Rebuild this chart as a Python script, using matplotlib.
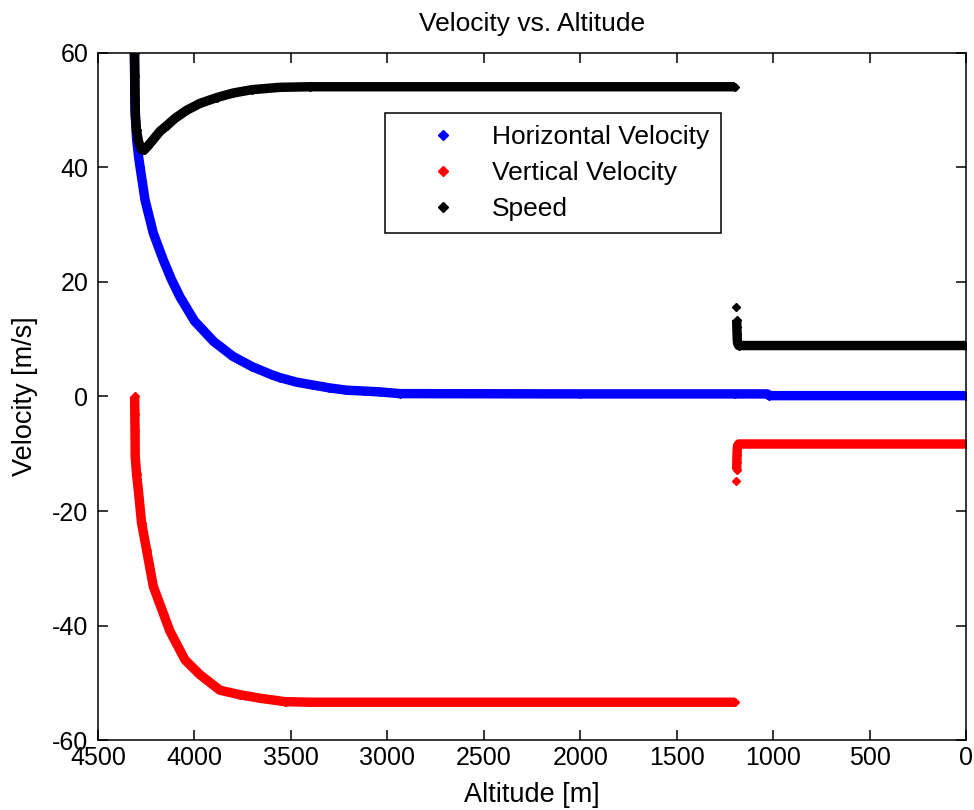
import numpy as np
import matplotlib
matplotlib.use("Agg")
import matplotlib.pyplot as plt
from matplotlib.lines import Line2D

plt.rcParams["font.family"] = ["Liberation Sans", "DejaVu Sans"]
plt.rcParams["font.size"] = 18
plt.rcParams["axes.unicode_minus"] = False

# horizontal velocity over the whole descent [m, m/s]
horiz_alt = [4312, 4310, 4308, 4300, 4290, 4282, 4256, 4213, 4161, 4120, 4075,
             4000, 3900, 3800, 3700, 3600, 3557, 3470, 3385, 3300, 3211, 3120,
             3038, 2935, 2000, 1200, 1030, 1020, 0]
horiz_vel = [60.0, 56.0, 50.0, 45.0, 42.0, 40.1, 34.3, 28.5, 23.8, 20.5, 17.4,
             13.2, 9.6, 7.0, 5.2, 3.8, 3.3, 2.5, 2.0, 1.5, 1.1, 0.95,
             0.8, 0.5, 0.45, 0.45, 0.45, 0.15, 0.15]

# vertical velocity: free fall, then under canopy
vert_alt_ff = [4310, 4309, 4308, 4307, 4300, 4291, 4274, 4248, 4213, 4127,
               4049, 3971, 3868, 3764, 3660, 3531, 3400, 1198]
vert_vel_ff = [0.0, -3.0, -6.0, -10.5, -13.5, -16.3, -22.1, -26.8, -33.2, -41.0,
               -46.0, -48.6, -51.3, -52.1, -52.7, -53.3, -53.4, -53.4]
vert_alt_chute = [1190, 1189, 1188, 1187, 1186, 1184, 1178, 0]
vert_vel_chute = [-14.8, -12.8, -11.4, -10.2, -9.2, -8.6, -8.3, -8.3]

# total speed: free fall, then under canopy
speed_alt_ff = [4310, 4309, 4308, 4306, 4300, 4290, 4275, 4262, 4240, 4179,
                4144, 4100, 4040, 3971, 3885, 3800, 3700, 3557, 3400, 1198]
speed_vel_ff = [60.0, 56.0, 52.0, 49.0, 46.5, 44.5, 43.2, 43.0, 43.8, 46.3,
                47.3, 48.6, 50.0, 51.2, 52.2, 53.0, 53.6, 54.0, 54.1, 54.1]
speed_alt_chute = [1190, 1189, 1188, 1187, 1186, 1184, 1178, 0]
speed_vel_chute = [15.6, 13.4, 12.2, 11.0, 10.0, 9.3, 8.9, 8.9]

BLUE = "#0000ff"
RED = "#ff0000"
BLACK = "#000000"


def draw_series(ax, alt, vel, color, skip_first=False):
    # thick line stands in for the dense run of samples, diamonds mark the readings
    start = 1 if skip_first else 0
    ax.plot(alt[start:], vel[start:], color=color, lw=6.8,
            solid_joinstyle="round", solid_capstyle="butt")
    ax.plot(alt, vel, ls="none", marker="D", ms=4.5, color=color, mec=color)


fig = plt.figure(figsize=(9.74, 8.10), dpi=100)
ax = fig.add_axes([0.1006, 0.0864, 0.8912, 0.8482])

draw_series(ax, horiz_alt, horiz_vel, BLUE)
draw_series(ax, vert_alt_ff, vert_vel_ff, RED)
draw_series(ax, vert_alt_chute, vert_vel_chute, RED, skip_first=True)
draw_series(ax, speed_alt_ff, speed_vel_ff, BLACK)
draw_series(ax, speed_alt_chute, speed_vel_chute, BLACK, skip_first=True)

ax.set_xlim(4500, 0)
ax.set_ylim(-60, 60)
ax.set_xticks(np.arange(4500, -1, -500))
ax.set_yticks(np.arange(-60, 61, 20))
ax.tick_params(direction="in", length=7.5, width=1.1, top=True, right=True)
ax.tick_params(axis="x", pad=4)
ax.tick_params(axis="y", pad=7)
for sp in ax.spines.values():
    sp.set_linewidth(1.1)

ax.set_title("Velocity vs. Altitude", fontsize=19, pad=16)
ax.set_xlabel("Altitude [m]", fontsize=19.5)
ax.set_ylabel("Velocity [m/s]", fontsize=19.5)
ax.xaxis.set_label_coords(0.5, -0.061)
ax.yaxis.set_label_coords(-0.069, 0.5)

handles = [
    Line2D([], [], ls="none", marker="D", ms=5, color=BLUE, label="Horizontal Velocity"),
    Line2D([], [], ls="none", marker="D", ms=5, color=RED, label="Vertical Velocity"),
    Line2D([], [], ls="none", marker="D", ms=5, color=BLACK, label="Speed"),
]
leg = ax.legend(handles=handles, loc="upper left", bbox_to_anchor=(0.331, 0.9127),
                fontsize=19, fancybox=False, edgecolor="black", framealpha=1,
                handlelength=3.5, handletextpad=0.1, borderpad=0.45,
                labelspacing=0.46, borderaxespad=0)
leg.get_frame().set_linewidth(1.1)

fig.savefig("out.png", dpi=100, facecolor="white")
